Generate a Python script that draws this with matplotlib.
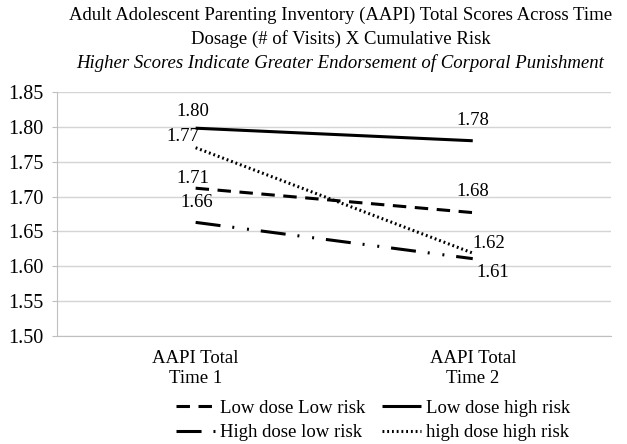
import matplotlib.pyplot as plt

# data
categories = ['AAPI Total\nTime 1', 'AAPI Total\nTime 2']
series_names = ['Low dose Low risk', 'Low dose high risk',
                'High dose low risk', 'high dose high risk']
low_low = [1.712, 1.677]
low_high = [1.798, 1.780]
high_low = [1.663, 1.611]
high_high = [1.770, 1.619]
labels_low_low = ['1.71', '1.68']
labels_low_high = ['1.80', '1.78']
labels_high_low = ['1.66', '1.61']
labels_high_high = ['1.77', '1.62']
yticks = [1.50, 1.55, 1.60, 1.65, 1.70, 1.75, 1.80, 1.85]

plt.rcParams['font.family'] = ['Liberation Serif', 'DejaVu Serif']
fs = 13.5

fig = plt.figure(figsize=(6.27, 4.44), dpi=100)
ax = fig.add_axes([0.091, 0.243, 0.884, 0.550])

lw = 2.2
x = [0.5, 1.5]
# (values, labels, linestyle, label offsets in pixels)
styles = [
    (low_low, labels_low_low, (0, (4.4, 2.8)), [(-3, 10), (0, 21)]),
    (low_high, labels_low_high, '-', [(-3, 17), (0, 20)]),
    (high_low, labels_high_low, (0, (8.2, 3.9, 0.65, 4.2, 0.65, 3.9)), [(1, 20), (20, -14)]),
    (high_high, labels_high_high, (0, (0.6, 0.95)), [(-13, 11), (16, 10)]),
]
handles = []
for vals, labs, ls, offs in styles:
    ln, = ax.plot(x, vals, color='black', lw=lw, linestyle=ls,
                  solid_capstyle='butt', dash_capstyle='butt')
    handles.append(ln)
    for xi, v, lab, off in zip(x, vals, labs, offs):
        ax.annotate(lab, xy=(xi, v), xytext=off, textcoords='offset pixels',
                    ha='center', va='center', fontsize=fs)

ax.set_xlim(0, 2)
ax.set_ylim(1.50, 1.85)
ax.set_yticks(yticks)
ax.set_yticklabels(['%.2f' % t for t in yticks], fontsize=14.5)
ax.set_xticks(x)
ax.set_xticklabels(categories, fontsize=fs, linespacing=1.2)
ax.tick_params(axis='x', length=0, pad=10)
ax.tick_params(axis='y', length=3.6, color='#bfbfbf', pad=6)
ax.grid(axis='y', color='#d4d4d4', lw=1)
ax.set_axisbelow(True)
for s in ['top', 'right']:
    ax.spines[s].set_visible(False)
ax.spines['left'].set_color('#bfbfbf')
ax.spines['bottom'].set_color('#bfbfbf')

fig.text(0.543, 0.966, 'Adult Adolescent Parenting Inventory (AAPI) Total Scores Across Time',
         ha='center', va='center', fontsize=fs)
fig.text(0.543, 0.912, 'Dosage (# of Visits) X Cumulative Risk',
         ha='center', va='center', fontsize=fs)
fig.text(0.543, 0.858, 'Higher Scores Indicate Greater Endorsement of Corporal Punishment',
         ha='center', va='center', fontsize=fs, style='italic')

order = [0, 2, 1, 3]
fig.legend([handles[i] for i in order], [series_names[i] for i in order],
           ncol=2, loc='center', bbox_to_anchor=(0.595, 0.053), frameon=False,
           fontsize=fs, handlelength=2.1, handletextpad=0.25, columnspacing=0.9,
           labelspacing=0.4, borderpad=0)

fig.savefig('out.png', dpi=100)
